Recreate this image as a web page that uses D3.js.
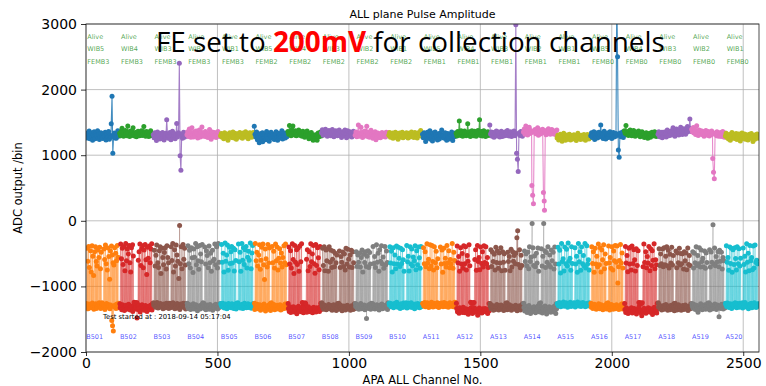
<!DOCTYPE html>
<html>
<head>
<meta charset="utf-8">
<script src="https://cdn.jsdelivr.net/npm/d3@7"></script>
<style>
  html, body { margin: 0; padding: 0; background: #fff; }
  svg { display: block; }
</style>
</head>
<body>
<svg id="chart" width="766" height="386"></svg>
<script>
// ---- channel layout of one FEMB: 8 chips x 16 channels ----
const chipsPerFemb = 8;
const chipSize = 16;
const xPlaneSlots = [0, 3, 6, 9, 12, 15];   // collection wires
const uPlaneSlots = [1, 4, 7, 10, 13];      // induction U
const vPlaneSlots = [2, 5, 8, 11, 14];      // induction V

// ---- labels per FEMB slot along the APA ----
const statusLabels = ["Alive","Alive","Alive","Alive","Alive","Alive","Alive","Alive","Alive","Alive",
                      "Alive","Alive","Alive","Alive","Alive","Alive","Alive","Alive","Alive","Alive"];
const wibLabels = ["WIB5","WIB4","WIB3","WIB2","WIB1","WIB5","WIB4","WIB3","WIB2","WIB1",
                   "WIB5","WIB4","WIB3","WIB2","WIB1","WIB5","WIB4","WIB3","WIB2","WIB1"];
const fembLabels = ["FEMB3","FEMB3","FEMB3","FEMB3","FEMB3","FEMB2","FEMB2","FEMB2","FEMB2","FEMB2",
                    "FEMB1","FEMB1","FEMB1","FEMB1","FEMB1","FEMB0","FEMB0","FEMB0","FEMB0","FEMB0"];
const boardLabels = ["B501","B502","B503","B504","B505","B506","B507","B508","B509","B510",
                     "A511","A512","A513","A514","A515","A516","A517","A518","A519","A520"];

const xTicks = [0, 500, 1000, 1500, 2000, 2500];
const yTicks = [-2000, -1000, 0, 1000, 2000, 3000];

// ---- collection (X plane) pulse amplitudes, 48 per FEMB ----
const collectionADC = [
[1290,1335,1262,1318,1370,1251,1304,1342,1278,1226,1315,1357,1283,1249,1331,1298,1372,1265,1310,1238,1286,1344,1269,1301,1255,1322,1287,1349,1233,1296,1318,1274,1361,1242,1305,1280,1480,1900,1030,1292,1338,1264,1301,1259,1327,1372,1288,1316],
[1335,1298,1362,1410,1327,1289,1351,1304,1378,1322,1296,1447,1340,1311,1286,1369,1325,1302,1359,1420,1318,1293,1347,1330,1281,1338,1365,1308,1296,1352,1327,1374,1299,1318,1436,1341,1305,1290,1362,1327,1351,1284,1316,1345,1372,1301,1329,1296],
[1310,1266,1342,1289,1225,1318,1354,1277,1301,1246,1329,1283,1262,1345,1308,1231,1290,1336,1272,1540,1318,1259,1301,1347,1284,1236,1320,1365,1270,1298,1331,1252,1306,1482,1279,1325,1343,2400,990,770,1296,1260,1312,1348,1274,1301,1337,1288],
[1312,1356,1284,1398,1329,1273,1341,1420,1305,1278,1352,1317,1290,1368,1335,1262,1319,1384,1303,1276,1347,1428,1314,1289,1336,1301,1362,1283,1340,1310,1271,1325,1391,1298,1244,1333,1355,1307,1281,1346,1312,1268,1330,1297,1361,1305,1284,1322],
[1296,1332,1275,1310,1251,1342,1304,1276,1325,1298,1226,1319,1287,1341,1302,1269,1318,1354,1291,1263,1335,1306,1244,1312,1328,1281,1299,1347,1273,1320,1305,1259,1338,1284,1311,1357,1279,1324,1296,1251,1319,1342,1301,1336,1272,1314,1345,1288],
[1440,1318,1276,1352,1234,1301,1262,1189,1327,1283,1245,1342,1206,1299,1271,1315,1237,1360,1288,1252,1331,1214,1306,1275,1348,1263,1297,1321,1240,1285,1310,1356,1268,1226,1334,1291,1259,1317,1283,1372,1246,1308,1295,1338,1262,1314,1280,1347],
[1362,1318,1451,1335,1296,1387,1324,1446,1357,1309,1372,1338,1295,1361,1320,1384,1342,1301,1358,1326,1289,1365,1331,1304,1275,1348,1313,1369,1297,1336,1252,1318,1290,1346,1274,1308,1229,1286,1245,1312,1267,1228,1301,1339,1282,1320,1355,1294],
[1342,1388,1305,1371,1329,1395,1316,1360,1287,1349,1376,1310,1365,1298,1340,1392,1321,1283,1356,1309,1374,1331,1297,1362,1328,1385,1302,1347,1270,1318,1357,1296,1339,1384,1312,1265,1334,1371,1290,1326,1358,1303,1345,1279,1316,1366,1331,1299],
[1306,1352,1281,1335,1462,1318,1290,1343,1427,1312,1268,1359,1329,1294,1370,1305,1441,1286,1348,1315,1274,1336,1382,1297,1321,1260,1344,1303,1356,1235,1310,1288,1339,1271,1325,1292,1266,1318,1347,1284,1302,1336,1320,1279,1351,1295,1314,1342],
[1305,1346,1273,1321,1290,1337,1257,1312,1284,1350,1268,1301,1329,1245,1296,1338,1276,1319,1302,1349,1266,1315,1281,1328,1292,1341,1307,1263,1334,1310,1277,1325,1355,1289,1317,1270,1300,1345,1284,1331,1262,1312,1343,1297,1325,1376,1308,1286],
[1318,1265,1342,1290,1207,1334,1281,1349,1259,1306,1372,1245,1322,1287,1218,1340,1296,1263,1355,1312,1276,1231,1327,1294,1248,1336,1302,1385,1270,1315,1297,1259,1342,1284,1226,1308,1331,1275,1248,1317,1290,1352,1268,1225,1304,1281,1339,1292],
[1335,1292,1361,1318,1520,1346,1301,1374,1327,1290,1352,1315,1368,1339,1296,1343,1480,1322,1307,1356,1285,1330,1371,1312,1342,1298,1365,1323,1289,1350,1316,1377,1334,1540,1302,1345,1361,1293,1328,1372,1310,1339,1286,1348,1319,1357,1301,1333],
[1460,1322,1355,1289,1341,1306,1274,1348,1315,1367,1293,1330,1352,1301,1279,1338,1364,1312,1286,1345,1320,1298,1357,1331,1305,1376,1342,1291,1328,1359,1317,1284,1346,1309,1370,1335,1298,2990,1030,940,750,1326,1342,1300,1361,1318,1287,1349],
[1352,1401,1318,1446,1337,1384,1309,1362,1425,1331,1378,1345,540,390,260,1356,1392,1328,1371,1340,1417,1305,1359,1386,1322,1368,1337,1394,430,300,160,1346,1312,1381,1355,1402,1333,1369,1318,1358,1391,1340,1376,1325,1362,1349,1310,1385],
[1262,1305,1231,1287,1318,1249,1276,1213,1298,1335,1254,1281,1226,1270,1309,1244,1291,1318,1265,1232,1286,1301,1247,1274,1312,1259,1290,1223,1279,1336,1253,1296,1268,1240,1305,1277,1288,1246,1314,1271,1229,1299,1262,1317,1285,1248,1302,1270],
[1295,1342,1268,1310,1356,1241,1318,1285,1337,1262,1304,1349,1278,1321,1459,1290,1335,1256,1309,1364,1281,1247,1326,1298,1340,1271,1312,1359,1287,1322,1254,1301,1345,1276,1318,1290,1330,3400,2500,1080,970,1300,1338,1281,1315,1352,1269,1307],
[1372,1336,1451,1318,1349,1301,1364,1327,1385,1342,1296,1359,1320,1377,1338,1290,1352,1314,1346,1305,1368,1329,1281,1340,1311,1358,1297,1333,1269,1322,1287,1343,1306,1260,1319,1298,1335,1274,1312,1349,1291,1327,1302,1356,1318,1284,1337,1310],
[1318,1357,1283,1336,1301,1349,1266,1322,1295,1354,1310,1278,1337,1386,1322,1298,1363,1341,1304,1372,1335,1419,1316,1352,1289,1343,1398,1327,1365,1308,1381,1340,1426,1359,1314,1394,1345,1402,1367,1318,1386,1355,1438,1372,1409,1550,1361,1392],
[1396,1352,1421,1338,1379,1315,1362,1448,1344,1301,1385,1357,1329,1372,1316,1364,1337,1290,1351,1318,1376,1342,1305,1360,1332,1291,1347,1312,1368,1324,950,740,640,1318,1341,1296,1357,1320,1289,1339,1302,1346,1284,1325,1360,1310,1275,1337],
[1294,1336,1271,1305,1248,1317,1283,1229,1302,1346,1265,1290,1318,1256,1287,1331,1240,1300,1274,1322,1261,1215,1296,1338,1253,1309,1278,1325,1244,1286,1311,1268,1232,1297,1319,1257,1285,1330,1262,1208,1299,1276,1245,1313,1280,1322,1259,1294]
];

// ---- induction U plane pulse amplitudes, 40 per FEMB ----
const uPlaneADC = [
[-1260,-420,-615,-390,-710,-455,-780,-380,-540,-835,-470,-395,-620,-690,-445,-560,-405,-730,-480,-1250,-1270,-430,-590,-370,-655,-750,-415,-545,-890,-460,-385,-520,-640,-675,-410,-495,-610,-375,-555,-1255],
[-1265,-355,-580,-420,-665,-390,-760,-345,-610,-430,-505,-375,-640,-780,-410,-365,-535,-1240,-1250,-1260,-1245,-1270,-600,-470,-355,-680,-425,-380,-715,-445,-360,-595,-820,-405,-570,-385,-640,-430,-350,-1260],
[-1250,-450,-690,-525,-370,-640,-710,-455,-395,-805,-420,-560,-670,-485,-410,-735,-380,-560,-640,-1255,-1265,-395,-605,-345,-780,-440,-690,-370,-520,-615,-880,-70,-655,-395,-730,-360,-585,-420,-675,-1260],
[-1255,-380,-655,-450,-720,-410,-565,-790,-430,-555,-345,-670,-395,-610,-740,-375,-505,-625,-360,-1250,-1260,-400,-660,-455,-530,-715,-385,-640,-495,-770,-450,-610,-585,-355,-670,-395,-720,-345,-630,-1265],
[-1260,-360,-630,-495,-780,-340,-615,-520,-370,-755,-405,-650,-470,-390,-645,-420,-765,-440,-605,-1255,-1250,-355,-625,-480,-770,-345,-600,-410,-665,-440,-390,-720,-555,-465,-600,-340,-730,-490,-375,-1260],
[-1255,-345,-610,-480,-690,-520,-365,-740,-600,-405,-355,-670,-895,-430,-580,-705,-360,-645,-415,-1260,-1250,-390,-640,-465,-720,-355,-610,-400,-750,-570,-425,-645,-490,-705,-560,-380,-640,-355,-670,-1265],
[-1260,-400,-660,-455,-720,-350,-590,-805,-375,-630,-440,-665,-415,-770,-385,-625,-350,-1245,-1255,-1260,-1250,-1265,-585,-440,-760,-470,-695,-350,-625,-505,-375,-655,-800,-360,-680,-410,-565,-745,-390,-1255],
[-1250,-420,-680,-395,-760,-445,-610,-430,-770,-395,-630,-450,-710,-585,-465,-700,-495,-640,-520,-1260,-1255,-460,-710,-545,-630,-475,-695,-505,-750,-420,-660,-435,-585,-705,-520,-450,-710,-470,-640,-1265],
[-1260,-470,-695,-520,-630,-490,-705,-560,-445,-780,-510,-635,-470,-695,-540,-455,-710,-485,-660,-1255,-1265,-390,-650,-545,-710,-365,-630,-495,-770,-440,-615,-380,-655,-550,-725,-390,-670,-460,-635,-1250],
[-1255,-395,-645,-465,-780,-410,-655,-520,-730,-385,-660,-405,-570,-695,-420,-650,-440,-595,-770,-1260,-1250,-375,-625,-540,-765,-395,-660,-430,-685,-550,-610,-380,-745,-455,-670,-400,-565,-725,-390,-1265],
[-1260,-410,-655,-470,-700,-350,-645,-585,-730,-365,-690,-375,-620,-750,-395,-640,-465,-715,-580,-1255,-1265,-400,-660,-445,-785,-420,-650,-570,-705,-375,-640,-455,-715,-590,-660,-345,-725,-480,-605,-1250],
[-1255,-385,-640,-545,-770,-410,-660,-500,-725,-380,-655,-395,-750,-530,-615,-365,-685,-1240,-1250,-1260,-1250,-1245,-590,-440,-755,-375,-620,-560,-745,-400,-650,-470,-705,-380,-635,-395,-655,-560,-710,-1260],
[-1260,-440,-695,-475,-620,-510,-750,-405,-635,-460,-725,-490,-645,-410,-760,-470,-630,-505,-755,-1255,-1250,-480,-620,-545,-760,-435,-705,-470,-615,-530,-655,-490,-260,-150,-665,-440,-715,-525,-680,-1265],
[-1255,-460,-620,-505,-685,-475,-730,-395,-620,-550,-40,-410,-680,-535,-700,-495,-645,-415,-770,-1260,-1250,-425,-690,-540,-40,-455,-710,-485,-630,-395,-670,-520,-705,-445,-610,-480,-735,-400,-660,-1265],
[-1260,-405,-660,-450,-795,-345,-620,-580,-765,-400,-655,-435,-690,-340,-615,-570,-755,-395,-650,-1255,-1250,-410,-660,-540,-785,-345,-625,-470,-755,-400,-655,-530,-690,-345,-720,-380,-660,-595,-750,-1265],
[-1255,-395,-650,-470,-785,-420,-660,-540,-700,-355,-670,-410,-780,-445,-595,-365,-730,-505,-650,-1260,-1250,-385,-640,-560,-725,-395,-750,-460,-610,-375,-630,-385,-950,-700,-605,-360,-645,-490,-720,-1265],
[-1260,-390,-645,-530,-775,-420,-660,-405,-750,-385,-650,-440,-595,-765,-425,-680,-455,-1245,-1255,-1250,-1260,-1250,-700,-355,-635,-470,-715,-545,-645,-390,-760,-425,-680,-455,-600,-350,-730,-595,-670,-1255],
[-1250,-425,-680,-505,-655,-430,-700,-410,-670,-540,-395,-685,-450,-720,-510,-645,-405,-675,-530,-1260,-1255,-460,-715,-490,-640,-420,-675,-500,-655,-505,-735,-470,-610,-490,-745,-415,-665,-530,-680,-1265],
[-1260,-470,-720,-495,-640,-395,-680,-530,-655,-410,-705,-445,-620,-570,-700,-460,-725,-490,-635,-1255,-1250,-440,-705,-475,-630,-60,-660,-415,-685,-545,-625,-470,-700,-450,-615,-480,-735,-560,-610,-1265],
[-1255,-380,-630,-560,-755,-400,-650,-420,-785,-440,-665,-410,-575,-750,-395,-655,-425,-690,-570,-1260,-1250,-415,-665,-540,-780,-350,-630,-495,-760,-375,-610,-560,-745,-385,-720,-370,-635,-600,-655,-1265]
];

// ---- induction V plane pulse amplitudes, 40 per FEMB ----
const vPlaneADC = [
[-1310,-1285,-1342,-1268,-1301,-1326,-1279,-1254,-1318,-1347,-1292,-1263,-1335,-1306,-1281,-1249,-1312,-1338,-1296,-1270,-1322,-1288,-1351,-1304,-1262,-1317,-1275,-1298,-1340,-1283,-1520,-1600,-1680,-1311,-1289,-1336,-1268,-1302,-1327,-1294],
[-1325,-1298,-1356,-1280,-1341,-1367,-1306,-1289,-1348,-1315,-1272,-1334,-1360,-1297,-1322,-1381,-1309,-1286,-1343,-1318,-1480,-1354,-1301,-1337,-1390,-1312,-1278,-1346,-1321,-1365,-1293,-1339,-1384,-1308,-1327,-1352,-1286,-1319,-1361,-1304],
[-1288,-1261,-1317,-1295,-1246,-1330,-1274,-1302,-1259,-1318,-1285,-1342,-1267,-1299,-1324,-1256,-1310,-1281,-1337,-1293,-1266,-1321,-1290,-1248,-1315,-1339,-1276,-1305,-1262,-1328,-1297,-1352,-1270,-1311,-1284,-1255,-1320,-1292,-1343,-1279],
[-1302,-1336,-1277,-1319,-1351,-1290,-1324,-1263,-1345,-1308,-1281,-1330,-1372,-1299,-1316,-1343,-1287,-1325,-1268,-1311,-1338,-1294,-1357,-1320,-1283,-1306,-1348,-1275,-1329,-1301,-1362,-1315,-1289,-1334,-1271,-1318,-1344,-1296,-1323,-1285],
[-1278,-1312,-1256,-1295,-1331,-1268,-1303,-1340,-1287,-1259,-1318,-1281,-1326,-1264,-1299,-1335,-1273,-1308,-1345,-1290,-1262,-1317,-1284,-1328,-1300,-1271,-1338,-1293,-1257,-1314,-1326,-1289,-1265,-1321,-1302,-1279,-1333,-1296,-1268,-1310],
[-1352,-1296,-1318,-1274,-1339,-1305,-1281,-1362,-1327,-1290,-1344,-1268,-1312,-1375,-1301,-1329,-1286,-1350,-1307,-1366,-1320,-1291,-1338,-1276,-1355,-1302,-1331,-1288,-1346,-1313,-1279,-1358,-1324,-1297,-1341,-1310,-1268,-1334,-1292,-1315],
[-1335,-1381,-1312,-1398,-1346,-1364,-1309,-1392,-1327,-1355,-1418,-1340,-1301,-1376,-1329,-1386,-1350,-1315,-1402,-1338,-1371,-1324,-1395,-1345,-1310,-1366,-1388,-1332,-1357,-1401,-1318,-1374,-1346,-1390,-1325,-1362,-1337,-1384,-1309,-1353],
[-1296,-1331,-1348,-1284,-1322,-1357,-1301,-1339,-1276,-1315,-1343,-1290,-1362,-1318,-1281,-1335,-1305,-1368,-1327,-1292,-1350,-1310,-1285,-1341,-1373,-1320,-1298,-1336,-1359,-1303,-1287,-1345,-1316,-1331,-1365,-1294,-1325,-1352,-1308,-1340],
[-1305,-1271,-1332,-1289,-1350,-1316,-1262,-1341,-1298,-1325,-1283,-1356,-1310,-1490,-1294,-1337,-1276,-1321,-1348,-1303,-1266,-1329,-1291,-1345,-1312,-1279,-1336,-1300,-1358,-1287,-1323,-1270,-1342,-1308,-1295,-1331,-1284,-1318,-1353,-1299],
[-1284,-1255,-1312,-1270,-1298,-1327,-1261,-1305,-1289,-1243,-1316,-1278,-1301,-1336,-1265,-1293,-1320,-1252,-1308,-1282,-1269,-1331,-1296,-1258,-1313,-1287,-1250,-1322,-1274,-1305,-1340,-1268,-1299,-1316,-1259,-1290,-1327,-1273,-1309,-1284],
[-1262,-1298,-1245,-1310,-1276,-1251,-1289,-1323,-1268,-1302,-1240,-1281,-1315,-1257,-1294,-1273,-1306,-1248,-1287,-1320,-1265,-1299,-1254,-1283,-1312,-1246,-1278,-1305,-1260,-1292,-1318,-1271,-1250,-1301,-1284,-1256,-1309,-1275,-1242,-1290],
[-1335,-1388,-1352,-1410,-1326,-1375,-1344,-1396,-1318,-1362,-1402,-1339,-1381,-1355,-1423,-1347,-1390,-1330,-1368,-1412,-1358,-1327,-1395,-1349,-1376,-1440,-1363,-1331,-1385,-1352,-1405,-1342,-1378,-1360,-1336,-1392,-1357,-1415,-1345,-1370],
[-1304,-1342,-1287,-1326,-1365,-1298,-1351,-1312,-1276,-1339,-1360,-1295,-1330,-1284,-1348,-1319,-1367,-1301,-1336,-1290,-1355,-1308,-1343,-1280,-1325,-1362,-1297,-1334,-1315,-1350,-1288,-1327,-1371,-1303,-1340,-1294,-1358,-1321,-1285,-1333],
[-1320,-1375,-1301,-1352,-1398,-1335,-1290,-1366,-1412,-1327,-1348,-1384,-1310,-1359,-1403,-1330,-1378,-1296,-1345,-1390,-1362,-1318,-1405,-1340,-1372,-1300,-1356,-1420,-1334,-1381,-1312,-1367,-1395,-1325,-1350,-1388,-1303,-1364,-1415,-1341],
[-1268,-1295,-1247,-1282,-1310,-1258,-1289,-1236,-1301,-1275,-1250,-1296,-1318,-1263,-1285,-1242,-1307,-1270,-1293,-1255,-1281,-1314,-1260,-1288,-1239,-1299,-1272,-1252,-1305,-1278,-1246,-1291,-1266,-1310,-1283,-1257,-1298,-1274,-1248,-1287],
[-1316,-1284,-1337,-1298,-1271,-1325,-1350,-1292,-1309,-1265,-1341,-1303,-1278,-1330,-1357,-1295,-1318,-1282,-1346,-1306,-1288,-1334,-1361,-1300,-1275,-1323,-1349,-1290,-1312,-1339,-1280,-1328,-1305,-1354,-1296,-1315,-1269,-1343,-1308,-1326],
[-1352,-1398,-1330,-1376,-1415,-1345,-1389,-1361,-1325,-1404,-1371,-1338,-1392,-1356,-1420,-1343,-1380,-1312,-1367,-1400,-1449,-1358,-1390,-1334,-1375,-1410,-1348,-1383,-1326,-1365,-1395,-1340,-1378,-1430,-1355,-1318,-1386,-1362,-1405,-1347],
[-1315,-1283,-1342,-1302,-1360,-1328,-1291,-1349,-1310,-1276,-1337,-1365,-1298,-1324,-1355,-1287,-1319,-1346,-1305,-1371,-1332,-1294,-1358,-1312,-1280,-1340,-1301,-1362,-1326,-1292,-1353,-1316,-1285,-1344,-1308,-1366,-1322,-1297,-1339,-1311],
[-1298,-1334,-1271,-1315,-1352,-1286,-1327,-1395,-1305,-1340,-1265,-1319,-1356,-1292,-1332,-1278,-1348,-1310,-1287,-1339,-1303,-1360,-1276,-1322,-1345,-1294,-1330,-1268,-1312,-1351,-1285,-1325,-1462,-1300,-1337,-1272,-1318,-1346,-1291,-1328],
[-1276,-1305,-1252,-1290,-1321,-1263,-1298,-1336,-1270,-1285,-1312,-1248,-1294,-1327,-1260,-1289,-1318,-1255,-1302,-1279,-1330,-1266,-1297,-1245,-1314,-1283,-1308,-1340,-1272,-1296,-1258,-1325,-1287,-1311,-1250,-1299,-1322,-1268,-1304,-1281]
];

const palette = ["#1f77b4","#ff7f0e","#2ca02c","#d62728","#9467bd",
                 "#8c564b","#e377c2","#7f7f7f","#bcbd22","#17becf"];

// ---- figure geometry ----
const width = 766, height = 386;
const plot = { left: 86, right: 759, top: 24, bottom: 352 };
const channelsPerFemb = chipsPerFemb * chipSize;
const nFemb = collectionADC.length;

const svg = d3.select("#chart");
const x = d3.scaleLinear().domain([0, nFemb * channelsPerFemb]).range([plot.left, plot.right]);
const y = d3.scaleLinear().domain([-2000, 3000]).range([plot.bottom, plot.top]);

svg.append("rect").attr("width", width).attr("height", height).attr("fill", "#fff");

// grid
const grid = svg.append("g").attr("stroke", "#b0b0b0").attr("stroke-width", 0.8);
grid.selectAll(".gx").data(xTicks).join("line")
  .attr("x1", d => x(d)).attr("x2", d => x(d))
  .attr("y1", plot.top).attr("y2", plot.bottom);
grid.selectAll(".gy").data(yTicks).join("line")
  .attr("x1", plot.left).attr("x2", plot.right)
  .attr("y1", d => y(d)).attr("y2", d => y(d));

svg.append("defs").append("clipPath").attr("id", "plotClip")
  .append("rect")
  .attr("x", plot.left).attr("y", plot.top)
  .attr("width", plot.right - plot.left).attr("height", plot.bottom - plot.top);

const dataLayer = svg.append("g").attr("clip-path", "url(#plotClip)");
const line = d3.line().x(d => x(d.ch)).y(d => y(d.v));

function drawSeries(points, color, lineOpacity, lineWidth) {
  const g = dataLayer.append("g");
  g.append("path").datum(points)
    .attr("d", line).attr("fill", "none")
    .attr("stroke", color).attr("stroke-width", lineWidth).attr("stroke-opacity", lineOpacity);
  g.selectAll("circle").data(points).join("circle")
    .attr("cx", d => x(d.ch)).attr("cy", d => y(d.v)).attr("r", 2.5)
    .attr("fill", color);
}

for (let f = 0; f < nFemb; f++) {
  const base = f * channelsPerFemb;
  const colPts = collectionADC[f].map((v, i) => ({
    ch: base + chipSize * Math.floor(i / xPlaneSlots.length) + xPlaneSlots[i % xPlaneSlots.length],
    v
  }));
  const indPts = [];
  for (let c = 0; c < chipsPerFemb; c++) {
    for (let k = 0; k < uPlaneSlots.length; k++) {
      indPts.push({ ch: base + chipSize * c + uPlaneSlots[k], v: uPlaneADC[f][c * uPlaneSlots.length + k] });
      indPts.push({ ch: base + chipSize * c + vPlaneSlots[k], v: vPlaneADC[f][c * vPlaneSlots.length + k] });
    }
  }
  indPts.sort((a, b) => a.ch - b.ch);
  drawSeries(colPts, palette[(2 * f) % 10], 0.85, 1.1);
  drawSeries(indPts, palette[(2 * f + 1) % 10], 0.45, 0.8);
}

// FEMB status labels
const font = "DejaVu Sans, sans-serif";
const lab = svg.append("g").attr("font-family", font).attr("font-size", 6.5);
const fembIdx = d3.range(nFemb);
lab.selectAll(".st").data(fembIdx).join("text")
  .attr("x", d => x(d * channelsPerFemb + 5)).attr("y", 38.5)
  .attr("fill", "#008000").attr("fill-opacity", 0.7).text(d => statusLabels[d]);
lab.selectAll(".wb").data(fembIdx).join("text")
  .attr("x", d => x(d * channelsPerFemb + 5)).attr("y", 50.7)
  .attr("fill", "#008000").attr("fill-opacity", 0.7).text(d => wibLabels[d]);
lab.selectAll(".fm").data(fembIdx).join("text")
  .attr("x", d => x(d * channelsPerFemb + 5)).attr("y", 64.3)
  .attr("fill", "#008000").attr("fill-opacity", 0.7).text(d => fembLabels[d]);
lab.selectAll(".bd").data(fembIdx).join("text")
  .attr("x", d => x(d * channelsPerFemb + 1)).attr("y", 338.5)
  .attr("fill", "#0000ff").attr("fill-opacity", 0.7).text(d => boardLabels[d]);

svg.append("text").attr("x", 103).attr("y", 319)
  .attr("font-family", font).attr("font-size", 6.8).attr("fill", "#000")
  .text("Test started at : 2018-09-14 05:17:04");

// frame
svg.append("rect")
  .attr("x", plot.left).attr("y", plot.top)
  .attr("width", plot.right - plot.left).attr("height", plot.bottom - plot.top)
  .attr("fill", "none").attr("stroke", "#222").attr("stroke-width", 0.8);

// axes
const fmt = d3.format("d");
const xAxis = svg.append("g").attr("transform", `translate(0,${plot.bottom})`)
  .call(d3.axisBottom(x).tickValues(xTicks).tickSize(4).tickPadding(2).tickFormat(fmt));
const yAxis = svg.append("g").attr("transform", `translate(${plot.left},0)`)
  .call(d3.axisLeft(y).tickValues(yTicks).tickSize(5).tickPadding(4).tickFormat(fmt));
[xAxis, yAxis].forEach(a => {
  a.select(".domain").remove();
  a.selectAll("text").attr("font-family", font).attr("font-size", 14).attr("fill", "#000");
  a.selectAll("line").attr("stroke", "#000").attr("stroke-width", 0.8);
});

// titles
svg.append("text").attr("x", (plot.left + plot.right) / 2).attr("y", 18)
  .attr("text-anchor", "middle").attr("font-family", font).attr("font-size", 11)
  .text("ALL plane Pulse Amplitude");
svg.append("text").attr("x", (plot.left + plot.right) / 2).attr("y", 384)
  .attr("text-anchor", "middle").attr("font-family", font).attr("font-size", 11.5)
  .text("APA ALL Channel No.");
svg.append("text")
  .attr("transform", `translate(22,${(plot.top + plot.bottom) / 2}) rotate(-90)`)
  .attr("text-anchor", "middle").attr("font-family", font).attr("font-size", 11.5)
  .text("ADC output /bin");

// banner note
const banner = svg.append("text").attr("x", 156).attr("y", 52)
  .attr("font-family", "Open Sans, Lato, sans-serif").attr("font-size", 27).attr("fill", "#000");
banner.append("tspan").text("FE set to ");
banner.append("tspan").attr("fill", "#ff0000").attr("font-weight", "bold").text("200mV");
banner.append("tspan").text(" for collection channels");
const bw = banner.node().getComputedTextLength();
if (bw > 0) banner.attr("font-size", 27 * 509 / bw);
</script>
</body>
</html>
